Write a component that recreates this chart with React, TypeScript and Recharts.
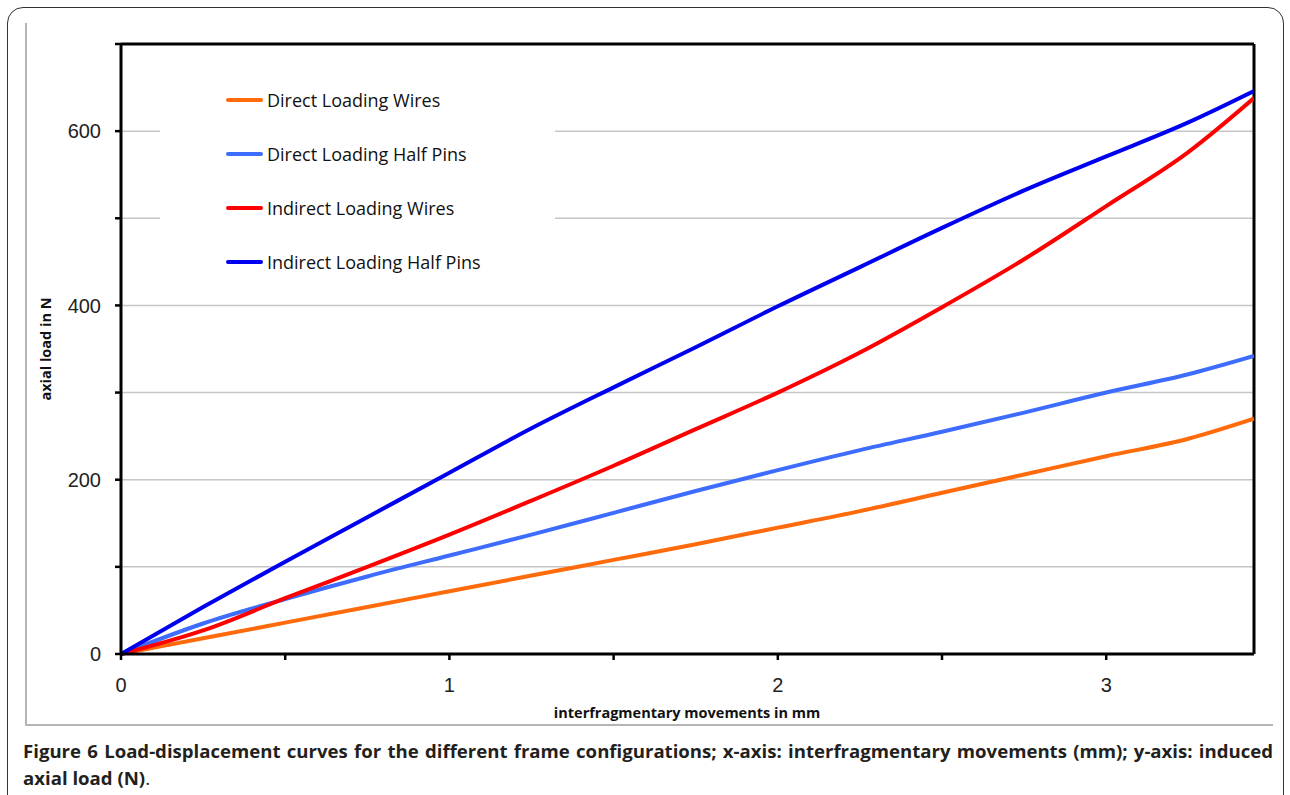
import React from "react";
import { LineChart, Line, XAxis, YAxis, CartesianGrid, Legend, ReferenceLine } from "recharts";

// interfragmentary movement (mm)
const movement = [0, 0.25, 0.5, 0.75, 1, 1.25, 1.5, 1.75, 2, 2.25, 2.5, 2.75, 3, 3.25, 3.45];

// axial load (N)
const directWires = [0, 18, 36, 54, 72, 90, 108, 126, 145, 164, 185, 206, 227, 247, 270];
const directHalfPins = [0, 35, 63, 89, 113, 137, 162, 187, 211, 234, 255, 277, 300, 321, 342];
const indirectWires = [0, 27, 64, 100, 137, 176, 216, 258, 300, 346, 398, 453, 514, 576, 638];
const indirectHalfPins = [0, 54, 106, 157, 208, 259, 306, 352, 399, 444, 489, 532, 571, 610, 646];

const xTicks = [0, 0.5, 1, 1.5, 2, 2.5, 3];
const yTicks = [0, 100, 200, 300, 400, 500, 600, 700];

const series = [
  { key: "dw", name: "Direct Loading Wires", color: "#ff6a0a", values: directWires },
  { key: "dhp", name: "Direct Loading Half Pins", color: "#3d6cff", values: directHalfPins },
  { key: "iw", name: "Indirect Loading Wires", color: "#ff0000", values: indirectWires },
  { key: "ihp", name: "Indirect Loading Half Pins", color: "#0000f0", values: indirectHalfPins },
];

const rows = movement.map((x, i) => {
  const row: Record<string, number> = { x };
  series.forEach((s) => (row[s.key] = s.values[i]));
  return row;
});

function LegendBox() {
  return (
    <div style={{ position: "relative", width: 395, height: 235, background: "#fff" }}>
      {series.map((s, i) => (
        <div key={s.key} style={{ position: "absolute", left: 66, top: 45 + i * 54 - 13, height: 26, display: "flex", alignItems: "center" }}>
          <div style={{ width: 37, height: 4, borderRadius: 2, background: s.color }} />
          <span style={{ marginLeft: 4, fontFamily: "'Open Sans', sans-serif", fontSize: 18, color: "#111", whiteSpace: "nowrap" }}>{s.name}</span>
        </div>
      ))}
    </div>
  );
}

const tickStyle = { fill: "#222", fontSize: 20, fontFamily: "'Liberation Sans', Arial, sans-serif" };
const titleFont = { fontFamily: "'Open Sans', sans-serif", fontWeight: 700, fontSize: 14.5, color: "#111", whiteSpace: "nowrap" as const };
const captionFont = { fontFamily: "'Open Sans', sans-serif", fontWeight: 700, fontSize: 18.6, lineHeight: "27px", color: "#231f20" };

export default function App() {
  return (
    <div style={{ position: "absolute", left: 0, top: 0, width: 1290, height: 795, overflow: "hidden", background: "#fff" }}>
      <div style={{ position: "absolute", left: 7, top: 7, width: 1275, height: 820, border: "1.5px solid #333", borderRadius: 16 }} />
      <div style={{ position: "absolute", left: 25, top: 23, width: 1.5, height: 702, background: "#b4b4b4" }} />
      <div style={{ position: "absolute", left: 25, top: 724, width: 1248, height: 1.5, background: "#b4b4b4" }} />

      <div style={{ position: "absolute", left: 0, top: 0 }}>
        <LineChart width={1290} height={730} data={rows} margin={{ top: 44, right: 36, left: 61, bottom: 46 }}>
          <CartesianGrid horizontal vertical={false} stroke="#c6c6c6" strokeWidth={1.5} />
          <XAxis
            dataKey="x"
            type="number"
            domain={[0, 3.45]}
            ticks={xTicks}
            allowDataOverflow
            height={30}
            tickSize={6}
            tickMargin={18}
            axisLine={{ stroke: "#000", strokeWidth: 3 }}
            tickLine={{ stroke: "#000", strokeWidth: 2.5 }}
            tick={tickStyle}
            tickFormatter={(v: number) => (Number.isInteger(v) ? String(v) : "")}
          />
          <YAxis
            type="number"
            domain={[0, 700]}
            ticks={yTicks}
            width={60}
            tickSize={6}
            tickMargin={14}
            axisLine={{ stroke: "#000", strokeWidth: 3 }}
            tickLine={{ stroke: "#000", strokeWidth: 2.5 }}
            tick={tickStyle}
            tickFormatter={(v: number) => (v % 200 === 0 && v < 700 ? String(v) : "")}
          />
          <ReferenceLine y={700} stroke="#000" strokeWidth={3} />
          <ReferenceLine x={3.45} stroke="#000" strokeWidth={3} />
          <Legend
            layout="vertical"
            align="center"
            verticalAlign="middle"
            content={<LegendBox />}
            wrapperStyle={{ position: "absolute", left: 160, top: 55, width: 395, height: 235 }}
          />
          {series.map((s) => (
            <Line
              key={s.key}
              dataKey={s.key}
              name={s.name}
              stroke={s.color}
              strokeWidth={4}
              type="monotone"
              dot={false}
              isAnimationActive={false}
            />
          ))}
        </LineChart>
      </div>

      <div style={{ ...titleFont, position: "absolute", left: 45, top: 349, transform: "translate(-50%, -50%) rotate(-90deg)" }}>
        axial load in N
      </div>
      <div style={{ ...titleFont, position: "absolute", left: 687, top: 712, transform: "translate(-50%, -50%)" }}>
        interfragmentary movements in mm
      </div>

      <div style={{ ...captionFont, position: "absolute", left: 23, top: 737, width: 1250, textAlign: "justify", textAlignLast: "justify" }}>
        Figure 6 Load-displacement curves for the different frame configurations; x-axis: interfragmentary movements (mm); y-axis: induced
      </div>
      <div style={{ ...captionFont, position: "absolute", left: 23, top: 764, whiteSpace: "nowrap" }}>
        axial load (N)<span style={{ fontWeight: 400 }}>.</span>
      </div>
    </div>
  );
}
